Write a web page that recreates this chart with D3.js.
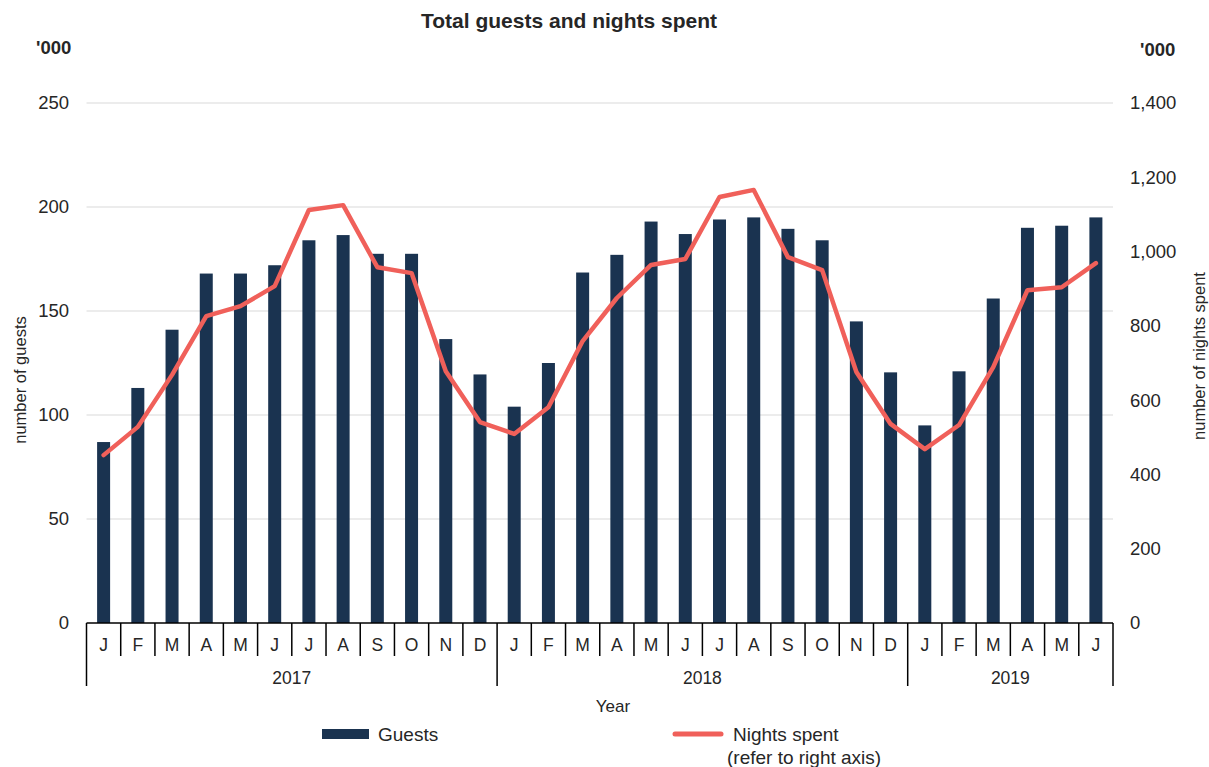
<!DOCTYPE html>
<html>
  <head>
    <meta charset="utf-8" />
    <title>Total guests and nights spent</title>
    <style>
      body { margin: 0; background: #fff; }
      text { font-family: "Liberation Sans", Arial, sans-serif; fill: #262626; }
      .grid line { stroke: #d9d9d9; stroke-width: 1px; }
      .tick-label { font-size: 18.5px; }
      .cat { font-size: 17.5px; }
    </style>
  </head>
  <body>
    <svg width="1209" height="767"></svg>

    <script src="https://d3js.org/d3.v7.min.js"></script>
    <script>
      // Data
      const years = ["2017", "2018", "2019"];
      const months = ["J","F","M","A","M","J","J","A","S","O","N","D",
                      "J","F","M","A","M","J","J","A","S","O","N","D",
                      "J","F","M","A","M","J"];
      const monthYear = [0,0,0,0,0,0,0,0,0,0,0,0, 1,1,1,1,1,1,1,1,1,1,1,1, 2,2,2,2,2,2];
      const guests = [87, 113, 141, 168, 168, 172, 184, 186.5, 177.5, 177.5, 136.5, 119.5,
                      104, 125, 168.5, 177, 193, 187, 194, 195, 189.5, 184, 145, 120.5,
                      95, 121, 156, 190, 191, 195];
      const nights = [452, 528, 668, 826, 853, 907, 1112, 1125, 958, 942, 678, 541,
                      509, 581, 759, 875, 964, 980, 1147, 1166, 985, 950, 676, 536,
                      468, 533, 689, 896, 904, 969];
      const leftTicks = [0, 50, 100, 150, 200, 250];
      const rightTicks = [0, 200, 400, 600, 800, 1000, 1200, 1400];

      const svg = d3.select("svg");
      const plotL = 86.5, plotR = 1113, plotT = 103, plotB = 623;

      const x = d3.scaleBand()
        .domain(d3.range(months.length))
        .range([plotL, plotR])
        .paddingInner(0.62)
        .paddingOuter(0.31);
      const step = (plotR - plotL) / months.length;
      const yL = d3.scaleLinear().domain([0, 250]).range([plotB, plotT]);
      const yR = d3.scaleLinear().domain([0, 1400]).range([plotB, plotT]);

      // Title
      svg.append("text")
        .attr("x", 569).attr("y", 21).attr("dy", "0.35em")
        .attr("text-anchor", "middle")
        .attr("font-size", 21).attr("font-weight", "bold")
        .text("Total guests and nights spent");

      svg.append("text").attr("x", 36).attr("y", 48).attr("dy", "0.35em")
        .attr("font-size", 18.5).attr("font-weight", "bold").text("'000");
      svg.append("text").attr("x", 1140).attr("y", 50).attr("dy", "0.35em")
        .attr("font-size", 18.5).attr("font-weight", "bold").text("'000");

      // Grid
      const grid = svg.append("g").attr("class", "grid");
      grid.selectAll("line")
        .data(leftTicks.slice(1))
        .join("line")
        .attr("x1", plotL).attr("x2", plotR)
        .attr("y1", d => yL(d)).attr("y2", d => yL(d));

      // Left axis labels
      svg.append("g").selectAll("text")
        .data(leftTicks)
        .join("text")
        .attr("class", "tick-label")
        .attr("x", 69).attr("y", d => yL(d))
        .attr("dy", "0.35em")
        .attr("text-anchor", "end")
        .text(d => d);

      // Right axis labels
      svg.append("g").selectAll("text")
        .data(rightTicks)
        .join("text")
        .attr("class", "tick-label")
        .attr("x", 1130).attr("y", d => yR(d))
        .attr("dy", "0.35em")
        .attr("text-anchor", "start")
        .text(d => d3.format(",")(d));

      // Axis titles
      svg.append("text")
        .attr("transform", "translate(20,380) rotate(-90)")
        .attr("text-anchor", "middle").attr("dy", "0.35em").attr("font-size", 16.5)
        .text("number of guests");
      svg.append("text")
        .attr("transform", "translate(1199,356) rotate(-90)")
        .attr("text-anchor", "middle").attr("dy", "0.35em").attr("font-size", 16.5)
        .text("number of nights spent");

      // Bars
      svg.append("g").selectAll("rect")
        .data(guests)
        .join("rect")
        .attr("x", (d, i) => x(i))
        .attr("width", x.bandwidth())
        .attr("y", d => yL(d))
        .attr("height", d => yL(0) - yL(d))
        .attr("fill", "#1a3350");

      // Line
      const line = d3.line()
        .x((d, i) => x(i) + x.bandwidth() / 2)
        .y(d => yR(d));
      svg.append("path")
        .datum(nights)
        .attr("d", line)
        .attr("fill", "none")
        .attr("stroke", "#f0605a")
        .attr("stroke-width", 4.5)
        .attr("stroke-linejoin", "round")
        .attr("stroke-linecap", "round");

      // Category axis
      const ax = svg.append("g");
      ax.append("line")
        .attr("x1", plotL).attr("x2", plotR)
        .attr("y1", plotB).attr("y2", plotB)
        .attr("stroke", "#000").attr("stroke-width", 1.5);
      ax.selectAll(".mtick")
        .data(d3.range(months.length + 1))
        .join("line")
        .attr("x1", i => plotL + i * step).attr("x2", i => plotL + i * step)
        .attr("y1", plotB)
        .attr("y2", i => (i === 0 || i === months.length || monthYear[i] !== monthYear[i - 1]) ? 686 : 656)
        .attr("stroke", "#000").attr("stroke-width", 1.5);
      ax.selectAll(".mlabel")
        .data(months)
        .join("text")
        .attr("class", "cat")
        .attr("x", (d, i) => x(i) + x.bandwidth() / 2)
        .attr("y", 645).attr("dy", "0.35em")
        .attr("text-anchor", "middle")
        .text(d => d);
      ax.selectAll(".ylabel")
        .data(years)
        .join("text")
        .attr("class", "cat")
        .attr("x", (d, k) => {
          const idx = monthYear.map((m, i) => m === k ? i : -1).filter(i => i >= 0);
          return plotL + (idx[0] + (idx[idx.length - 1] + 1)) / 2 * step;
        })
        .attr("y", 678).attr("dy", "0.35em")
        .attr("text-anchor", "middle")
        .text(d => d);

      svg.append("text")
        .attr("x", 613).attr("y", 706).attr("dy", "0.35em")
        .attr("text-anchor", "middle").attr("font-size", 17)
        .text("Year");

      // Legend
      const lg = svg.append("g");
      lg.append("rect").attr("x", 322).attr("y", 729).attr("width", 47).attr("height", 10)
        .attr("fill", "#1a3350");
      lg.append("text").attr("x", 378).attr("y", 734).attr("dy", "0.35em")
        .attr("font-size", 19).text("Guests");
      lg.append("line").attr("x1", 675).attr("x2", 721).attr("y1", 734).attr("y2", 734)
        .attr("stroke", "#f0605a").attr("stroke-width", 5).attr("stroke-linecap", "round");
      lg.append("text").attr("x", 733).attr("y", 734).attr("dy", "0.35em")
        .attr("font-size", 19).text("Nights spent");
      lg.append("text").attr("x", 727).attr("y", 757).attr("dy", "0.35em")
        .attr("font-size", 19).text("(refer to right axis)");
    </script>
  </body>
</html>
